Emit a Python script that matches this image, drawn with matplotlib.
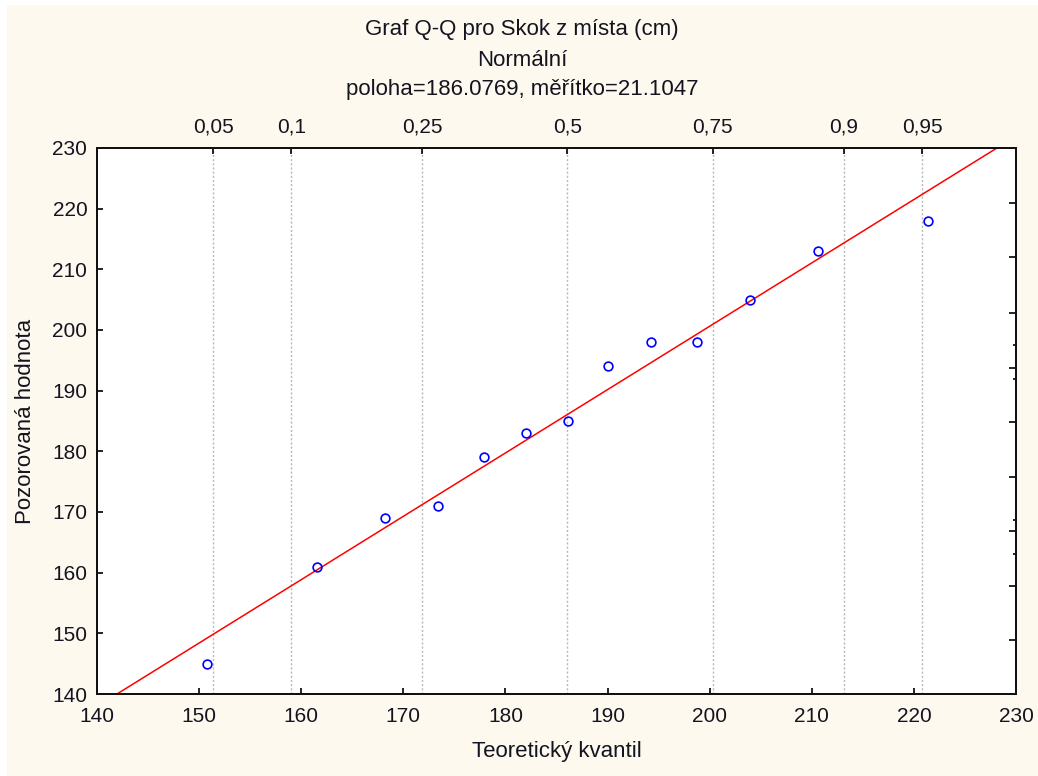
import matplotlib
matplotlib.use("Agg")
import matplotlib.pyplot as plt
from matplotlib.patches import Rectangle
from statistics import NormalDist
import numpy as np

# Observed standing long jump results (cm) and their theoretical normal quantiles
observed = [145, 161, 169, 171, 179, 183, 185, 194, 198, 198, 205, 213, 218]
theoretical = [150.77, 161.56, 168.17, 173.37, 177.89, 182.06, 186.08,
               190.09, 194.26, 198.78, 203.98, 210.60, 221.38]

location = 186.0769
scale = 21.1047

# Probability scale shown along the top edge
prob_ticks = [0.05, 0.1, 0.25, 0.5, 0.75, 0.9, 0.95]
prob_labels = ["0,05", "0,1", "0,25", "0,5", "0,75", "0,9", "0,95"]

x_ticks = list(range(140, 231, 10))
y_ticks = list(range(140, 231, 10))

# Tick marks along the right edge
right_major = [220.9, 212.0, 202.75, 193.7, 184.9, 175.7, 166.9, 157.8, 148.9]
right_minor = [197.5, 192.0, 168.6, 163.1]

title_lines = ["Graf Q-Q pro Skok z místa (cm)", "Normální",
               "poloha=186.0769, měřítko=21.1047"]

plt.rcParams["font.family"] = ["Liberation Sans", "DejaVu Sans"]
text_color = "#141420"
bg = "#FEF9EE"
fs_tick = 15
fs_text = 16

W, H = 1038, 776
fig = plt.figure(figsize=(W / 100, H / 100), dpi=100, facecolor="white")
fig.patches.append(Rectangle((7 / W, 0), 1 - 7 / W, 1 - 5 / H,
                             transform=fig.transFigure, facecolor=bg,
                             edgecolor="none", zorder=-10))

left, right = 97 / W, 1016 / W
top, bottom = 1 - 148 / H, 1 - 694 / H
ax = fig.add_axes([left, bottom, right - left, top - bottom])
ax.set_facecolor("white")
ax.set_xlim(140, 230)
ax.set_ylim(140, 230)

# Regression line of observed values on theoretical quantiles
slope, intercept = np.polyfit(theoretical, observed, 1)
xl = np.array([130.0, 240.0])
ax.plot(xl, intercept + slope * xl, color="#FF0000", lw=1.1, zorder=3)

ax.plot(theoretical, observed, linestyle="none", marker="o", ms=6.3,
        mfc="none", mec="#0000FF", mew=1.2, zorder=4)

ax.set_xticks(x_ticks)
ax.set_yticks(y_ticks)
ax.tick_params(axis="both", direction="in", length=4, width=1.2,
               labelsize=fs_tick, labelcolor=text_color, pad=7)
ax.tick_params(axis="x", pad=9)
for s in ax.spines.values():
    s.set_linewidth(1.3)
    s.set_color("#111111")

ax.set_xlabel("Teoretický kvantil", fontsize=fs_text, color=text_color,
              labelpad=11)
ax.set_ylabel("Pozorovaná hodnota", fontsize=fs_text, color=text_color,
              labelpad=12)

# Top probability axis with dotted vertical guides
nd = NormalDist(location, scale)
prob_pos = [nd.inv_cdf(p) for p in prob_ticks]
top_ax = ax.twiny()
top_ax.set_xlim(ax.get_xlim())
top_ax.set_xticks(prob_pos)
top_ax.set_xticklabels(prob_labels)
top_ax.tick_params(axis="x", direction="in", length=4, width=1.2,
                   labelsize=fs_tick, labelcolor=text_color, pad=8)
for xp in prob_pos:
    ax.axvline(xp, color="#b8b8b8", lw=1.0, ls=(0, (1.5, 1.5)), zorder=1)

# Right edge ticks
right_ax = ax.twinx()
right_ax.set_ylim(ax.get_ylim())
right_ax.set_yticks(right_major)
right_ax.set_yticks(right_minor, minor=True)
right_ax.tick_params(axis="y", which="major", direction="in", length=5,
                     width=1.2, labelright=False)
right_ax.tick_params(axis="y", which="minor", direction="in", length=2.5,
                     width=1.2, labelright=False)
for a in (top_ax, right_ax):
    for s in a.spines.values():
        s.set_linewidth(1.3)
        s.set_color("#111111")

for txt, yp in zip(title_lines, [30, 61, 90]):
    fig.text(522 / W, 1 - yp / H, txt, ha="center",
             va="center", fontsize=fs_text, color=text_color)

fig.savefig("out.png", dpi=100, facecolor="white")
